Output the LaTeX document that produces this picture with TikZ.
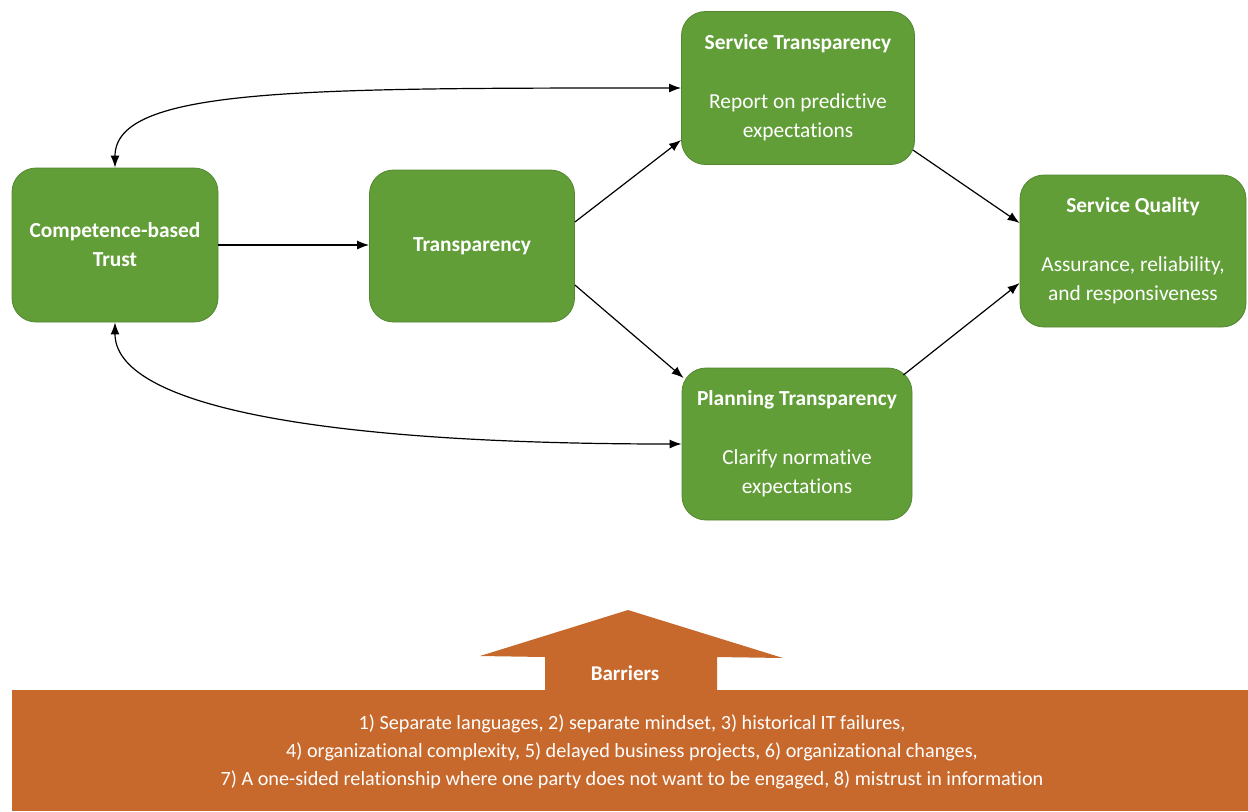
\documentclass[tikz,border=0pt]{standalone}
\usepackage{fontspec}
\setmainfont{Carlito}[Ligatures=NoCommon]
\usetikzlibrary{arrows.meta}

\definecolor{boxgreen}{RGB}{98,158,56}
\definecolor{barrierorange}{RGB}{199,104,44}

\tikzset{
	greenbox/.style={rectangle, rounded corners=12pt, fill=boxgreen,
		draw=boxgreen!85!black, line width=0.4pt, text=white, align=center,
		inner sep=0pt, font=\fontsize{10.7}{14.5}\selectfont},
	link/.style={-{Latex[length=6pt,width=4.5pt]}, line width=0.6pt},
	twoway/.style={{Latex[length=6pt,width=4.5pt]}-{Latex[length=6pt,width=4.5pt]}, line width=0.6pt},
	barriertext/.style={text=white, align=center, inner sep=0pt},
}

\begin{document}
\begin{tikzpicture}[x=0.5pt, y=-0.5pt]
	\useasboundingbox (0,0) rectangle (1248,811);

	% boxes
	\node
		[greenbox, minimum width=103pt, minimum height=77pt] (trust) at (115,245)
		{\textbf{Competence-based}\\\textbf{Trust}};

	\node
		[greenbox, minimum width=102.5pt, minimum height=76pt] (transp) at (472,246)
		{\textbf{Transparency}};

	\node
		[greenbox, minimum width=116.5pt, minimum height=76.5pt] (servtr) at (798,88)
		{\textbf{Service Transparency}\\[15pt]Report on predictive\\expectations};

	\node
		[greenbox, minimum width=115pt, minimum height=76pt] (plantr) at (797,444)
		{\textbf{Planning Transparency}\\[15pt]Clarify normative\\expectations};

	\node
		[greenbox, minimum width=113pt, minimum height=76pt] (quality) at (1133,251)
		{\textbf{Service Quality}\\[15pt]Assurance, reliability,\\and responsiveness};

	% connectors
	\draw
		[link] (trust.east) -- (trust.east -| transp.west);

	\draw
		[link] ([yshift=12pt]transp.east) -- ([yshift=-26pt]servtr.west);

	\draw
		[link] ([yshift=-19.5pt]transp.east) -- ([xshift=1pt,yshift=33pt]plantr.west);

	\draw
		[link] ([xshift=-1pt,yshift=-31pt]servtr.east) -- ([yshift=14pt]quality.west);

	\draw
		[link] ([xshift=-4.5pt,yshift=34.5pt]plantr.east) -- ([yshift=-16pt]quality.west);

	\draw
		[twoway] (trust.north)
		.. controls +(0,-80) and +(-380,0) .. (servtr.west);

	\draw
		[twoway] (trust.south)
		.. controls +(0,80) and +(-380,0) .. (plantr.west);

	% barriers
	\fill
		[barrierorange] (12,690) rectangle (1248,811);

	\fill
		[barrierorange] (545,691) -- (545,657) -- (480,656) -- (628,610)
		-- (783,658) -- (717,657) -- (717,691) -- cycle;

	\node
		[barriertext, font=\bfseries\fontsize{10.5}{12}\selectfont] (barriers) at (625,673)
		{Barriers};

	\node
		[barriertext, font=\fontsize{10.1}{14}\selectfont] (barrierlist) at (632,752)
		{1) Separate languages, 2) separate mindset, 3) historical IT failures,\\
		4) organizational complexity, 5) delayed business projects, 6) organizational changes,\\
		7) A one-sided relationship where one party does not want to be engaged, 8) mistrust in information};

\end{tikzpicture}
\end{document}
